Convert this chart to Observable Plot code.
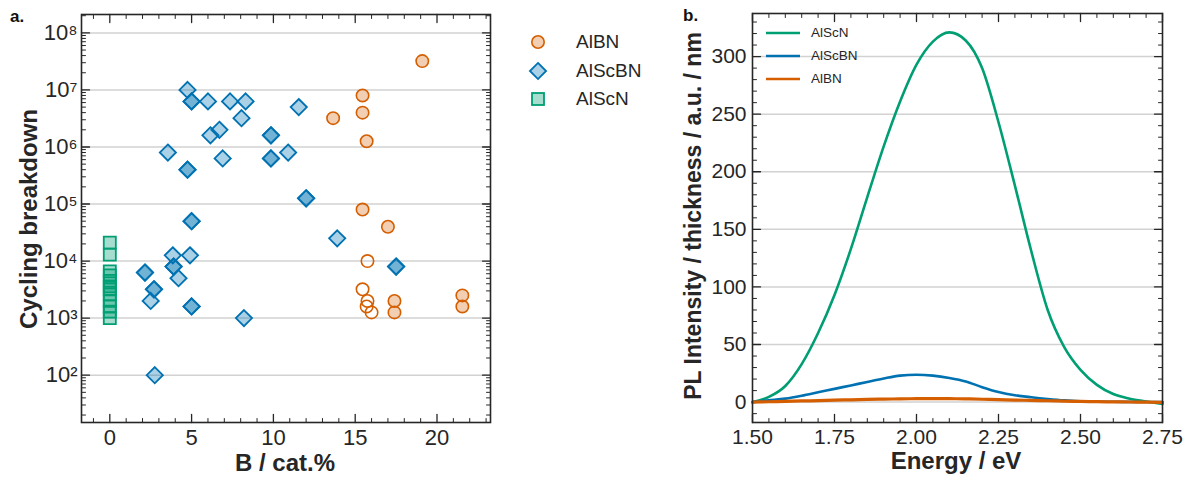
<!DOCTYPE html>
<html><head><meta charset="utf-8">
<script src="https://cdn.jsdelivr.net/npm/d3@7"></script>
<script src="https://cdn.jsdelivr.net/npm/@observablehq/plot@0.6"></script>
<style>
body{margin:0;background:#fff;font-family:"Liberation Sans",Arial,sans-serif;}
#wrap{position:relative;width:1189px;height:477px;overflow:hidden;background:#fff;}
.abs{position:absolute;line-height:0;}
.abs svg{display:block;}
.title{position:absolute;font-weight:bold;font-size:24px;color:#262626;white-space:nowrap;line-height:1;}
.rot{transform:translate(-50%,-50%) rotate(-90deg);}
.hc{transform:translate(-50%,0);}
.panel{position:absolute;font-weight:bold;font-size:17px;color:#111;line-height:1;}
.leg{position:absolute;color:#262626;white-space:nowrap;line-height:1;}
</style></head><body><div id="wrap"></div><script>
// ---------- Panel a data ----------
const alscnB = [0,0,0,0,0,0,0,0,0,0,0,0];
const alscnCycles = [2.1e4,1.3e4,6.6e3,5.6e3,4.5e3,3.6e3,3.2e3,2.6e3,2.0e3,1.6e3,1.3e3,1.0e3];

const alscbnB = [4.75,5.0,5.0,6.0,7.35,8.3,8.05,6.7,6.15,3.55,4.75,4.75,6.9,9.85,9.85,9.85,9.85,10.9,11.55,12.0,12.0,5.0,5.0,13.9,2.15,2.15,3.85,4.9,3.9,3.9,4.2,2.7,2.7,2.5,5.0,5.0,8.2,2.75,17.5,17.5];
const alscbnCycles = [1e7,6.3e6,6.3e6,6.3e6,6.3e6,6.3e6,3.2e6,2.0e6,1.6e6,8e5,4e5,4e5,6.3e5,1.6e6,1.6e6,6.3e5,6.3e5,8e5,5e6,1.26e5,1.26e5,5e4,5e4,2.5e4,6.3e3,6.3e3,1.26e4,1.26e4,8e3,8e3,5e3,3.2e3,3.2e3,2e3,1.6e3,1.6e3,1e3,100,8e3,8e3];

const albnB = [19.1,15.45,15.45,13.65,15.7,15.45,17.0,15.75,15.45,15.75,15.7,16.0,17.4,17.4,21.55,21.55];
const albnCycles = [3.2e7,8e6,4e6,3.2e6,1.26e6,8e4,4e4,1e4,3.2e3,2e3,1.6e3,1.26e3,2e3,1.26e3,2.5e3,1.6e3];
const albnFilled = [true,true,true,true,true,true,true,false,false,false,false,false,true,true,true,true];

const aXMajor = [0,5,10,15,20];
const aXMinor = [-1,1,2,3,4,6,7,8,9,11,12,13,14,16,17,18,19,21,22,23];
const aYMajor = [1e2,1e3,1e4,1e5,1e6,1e7,1e8];
const aYMinorMult = [2,3,4,5,6,7,8,9];
const aYMinorDecades = [1e1,1e2,1e3,1e4,1e5,1e6,1e7,1e8];

// ---------- Panel b data ----------
const energy = [1.50,1.55,1.60,1.65,1.70,1.75,1.80,1.85,1.90,1.95,2.00,2.05,2.10,2.15,2.20,2.25,2.30,2.35,2.40,2.45,2.50,2.55,2.60,2.65,2.70,2.75];
const alscnPL = [0,4.5,14,33,60,93,133,178,222,261,293,313,321,314,290,243,188,131,80,48,28,15,7,3,0.5,-1.7];
const alscbnPL = [0,1.5,3,5.5,8.5,11.5,14.5,17.5,20.5,23,23.8,23,21,18,13,8.8,6,4.2,2.7,1.5,0.8,0.5,0.3,0.2,0.1,0];
const albnPL = [0,0.3,0.6,1.0,1.3,1.7,2.0,2.3,2.6,2.8,3.0,3.1,3.0,2.8,2.5,2.2,1.8,1.5,1.2,0.9,0.6,0.4,0.2,0.1,0,-0.3];

const bXMajor = [1.5,1.75,2.0,2.25,2.5,2.75];
const bXMinor = [1.55,1.6,1.65,1.7,1.8,1.85,1.9,1.95,2.05,2.1,2.15,2.2,2.3,2.35,2.4,2.45,2.55,2.6,2.65,2.7];
const bYMajor = [0,50,100,150,200,250,300];
const bYMinor = [-10,10,20,30,40,60,70,80,90,110,120,130,140,160,170,180,190,210,220,230,240,260,270,280,290,310,320,330];

const cGreen = "#009E73", cBlue = "#0072B2", cOrange = "#D55E00";
const ink = "#262626";
const font = "Liberation Sans, Arial, sans-serif";

const wrap = document.getElementById("wrap");

// inward ticks on all four sides, drawn with Plot.vector
const tickShape = {draw(ctx, l) { ctx.moveTo(0, 0); ctx.lineTo(0, -l); }};
function xTicks(values, len, sw) {
  const o = {x: d => d, length: len, anchor: "start", shape: tickShape, stroke: ink, strokeWidth: sw};
  return [
    Plot.vector(values, {...o, frameAnchor: "bottom", rotate: 0}),
    Plot.vector(values, {...o, frameAnchor: "top", rotate: 180})
  ];
}
function yTicks(values, len, sw) {
  const o = {y: d => d, length: len, anchor: "start", shape: tickShape, stroke: ink, strokeWidth: sw};
  return [
    Plot.vector(values, {...o, frameAnchor: "left", rotate: 90}),
    Plot.vector(values, {...o, frameAnchor: "right", rotate: -90})
  ];
}

// ---------- Panel a ----------
const aW = 500, aH = 477, aML = 81, aMR = 10, aMT = 14, aMB = 55;
const aYMinor = aYMinorDecades.flatMap(dd => aYMinorMult.map(m => m * dd)).filter(v => v > 14.8 && v < 2.1e8);
const sup = {"1":"¹","2":"²","3":"³","4":"⁴","5":"⁵","6":"⁶","7":"⁷","8":"⁸","9":"⁹","0":"⁰"};
const supFmt = d => "10" + String(Math.round(Math.log10(d))).split("").map(c => sup[c]).join("");

const scN = alscnB.map((b,i)=>({b, c: alscnCycles[i]}));
const sbN = alscbnB.map((b,i)=>({b, c: alscbnCycles[i]}));
const bnN = albnB.map((b,i)=>({b, c: albnCycles[i], f: albnFilled[i]}));

const majLen = 8, minLen = 4;
const plotA = Plot.plot({
  width: aW, height: aH,
  marginLeft: aML, marginRight: aMR, marginTop: aMT, marginBottom: aMB,
  style: {fontFamily: font, color: ink, background: "transparent", overflow: "visible"},
  x: {domain: [-1.73, 23.27]},
  y: {type: "log", domain: [14.8, 2.1e8]},
  marks: [
    Plot.ruleY(aYMajor, {y: d => d, stroke: "#d2d2d2", strokeWidth: 1.5}),
    ...xTicks(aXMajor, majLen, 1.3),
    ...xTicks(aXMinor, minLen, 1),
    ...yTicks(aYMajor, majLen, 1.3),
    ...yTicks(aYMinor, minLen, 1),
    Plot.dot(scN, {x: "b", y: "c", symbol: "square", r: 6.8, fill: cGreen, fillOpacity: 0.35, stroke: cGreen, strokeWidth: 1.8}),
    Plot.dot(sbN, {x: "b", y: "c", symbol: "diamond2", r: 7.3, fill: cBlue, fillOpacity: 0.33, stroke: cBlue, strokeWidth: 1.8}),
    Plot.dot(bnN.filter(d => d.f), {x: "b", y: "c", r: 6.2, fill: cOrange, fillOpacity: 0.3, stroke: cOrange, strokeWidth: 1.6}),
    Plot.dot(bnN.filter(d => !d.f), {x: "b", y: "c", r: 6.2, fill: "none", stroke: cOrange, strokeWidth: 1.6}),
    Plot.frame({stroke: ink, strokeWidth: 1.6}),
    Plot.axisX(aXMajor, {tickSize: 0, tickPadding: 7, fontSize: 22, label: null, fill: ink}),
    Plot.axisY(aYMajor, {tickSize: 0, tickPadding: 4, fontSize: 22, label: null, tickFormat: supFmt, fill: ink})
  ]
});
plotA.style.position = "absolute"; plotA.style.left = "0px"; plotA.style.top = "0px";
wrap.appendChild(plotA);

// ---------- Panel b ----------
const bLeft = 660, bW = 529, bH = 477, bML = 92, bMR = 27, bMT = 13, bMB = 55;
const series = [
  ...energy.map((e,i)=>({e, v: alscnPL[i], s: "AlScN"})),
  ...energy.map((e,i)=>({e, v: alscbnPL[i], s: "AlScBN"})),
  ...energy.map((e,i)=>({e, v: albnPL[i], s: "AlBN"}))
];
const plotB = Plot.plot({
  width: bW, height: bH,
  marginLeft: bML, marginRight: bMR, marginTop: bMT, marginBottom: bMB,
  style: {fontFamily: font, color: ink, background: "transparent", overflow: "visible"},
  x: {domain: [1.5, 2.75]},
  y: {domain: [-17.7, 337.4]},
  marks: [
    Plot.ruleY(bYMajor, {y: d => d, stroke: "#d2d2d2", strokeWidth: 1.5}),
    ...xTicks(bXMajor, majLen, 1.3),
    ...xTicks(bXMinor, minLen, 1),
    ...yTicks(bYMajor, majLen, 1.3),
    ...yTicks(bYMinor, minLen, 1),
    Plot.line(series.filter(d => d.s === "AlScN"), {x: "e", y: "v", stroke: cGreen, strokeWidth: 2.6, curve: "monotone-x"}),
    Plot.line(series.filter(d => d.s === "AlScBN"), {x: "e", y: "v", stroke: cBlue, strokeWidth: 2.6, curve: "monotone-x"}),
    Plot.line(series.filter(d => d.s === "AlBN"), {x: "e", y: "v", stroke: cOrange, strokeWidth: 3.2, curve: "monotone-x"}),
    Plot.frame({stroke: ink, strokeWidth: 1.6}),
    Plot.axisX(bXMajor, {tickSize: 0, tickPadding: 7, fontSize: 21, label: null, tickFormat: d3.format(".2f"), fill: ink}),
    Plot.axisY(bYMajor, {tickSize: 0, tickPadding: 6, fontSize: 21, label: null, fill: ink})
  ]
});
plotB.style.position = "absolute"; plotB.style.left = bLeft + "px"; plotB.style.top = "0px";
wrap.appendChild(plotB);

// ---------- Text overlays ----------
function addDiv(cls, html, css) {
  const d = document.createElement("div");
  d.className = cls; d.innerHTML = html;
  Object.assign(d.style, css);
  wrap.appendChild(d); return d;
}
addDiv("panel", "a.", {left: "10px", top: "8px"});
addDiv("panel", "b.", {left: "683px", top: "7px"});
addDiv("title rot", "Cycling breakdown", {left: "29px", top: "219px"});
addDiv("title hc", "B / cat.%", {left: "285px", top: "451px"});
addDiv("title rot", "PL Intensity / thickness / a.u. / nm", {left: "693px", top: "216px", fontSize: "23px"});
addDiv("title hc", "Energy / eV", {left: "956px", top: "449px"});

// Panel a legend
const legA = [
  {label: "AlBN", sym: "circle", color: cOrange, y: 42},
  {label: "AlScBN", sym: "diamond", color: cBlue, y: 71},
  {label: "AlScN", sym: "square", color: cGreen, y: 99}
];
legA.forEach(l => {
  let shape;
  if (l.sym === "circle") shape = `<circle cx="10" cy="10" r="6.2" fill="${l.color}" fill-opacity="0.3" stroke="${l.color}" stroke-width="1.6"/>`;
  else if (l.sym === "diamond") shape = `<path d="M10,1.9L18.1,10L10,18.1L1.9,10Z" fill="${l.color}" fill-opacity="0.33" stroke="${l.color}" stroke-width="1.8"/>`;
  else shape = `<rect x="4" y="4" width="12" height="12" fill="${l.color}" fill-opacity="0.35" stroke="${l.color}" stroke-width="1.8"/>`;
  addDiv("abs", `<svg width="20" height="20">${shape}</svg>`, {left: "528px", top: (l.y - 10) + "px"});
  addDiv("leg", l.label, {left: "576px", top: (l.y - 10) + "px", fontSize: "19px"});
});

// Panel b legend
const legB = [
  {label: "AlScN", color: cGreen, y: 33},
  {label: "AlScBN", color: cBlue, y: 56},
  {label: "AlBN", color: cOrange, y: 79}
];
legB.forEach(l => {
  addDiv("abs", `<svg width="36" height="6"><line x1="1" y1="3" x2="35" y2="3" stroke="${l.color}" stroke-width="2.6"/></svg>`, {left: "765px", top: (l.y - 3) + "px"});
  addDiv("leg", l.label, {left: "811px", top: (l.y - 7) + "px", fontSize: "13.5px"});
});
</script></body></html>
